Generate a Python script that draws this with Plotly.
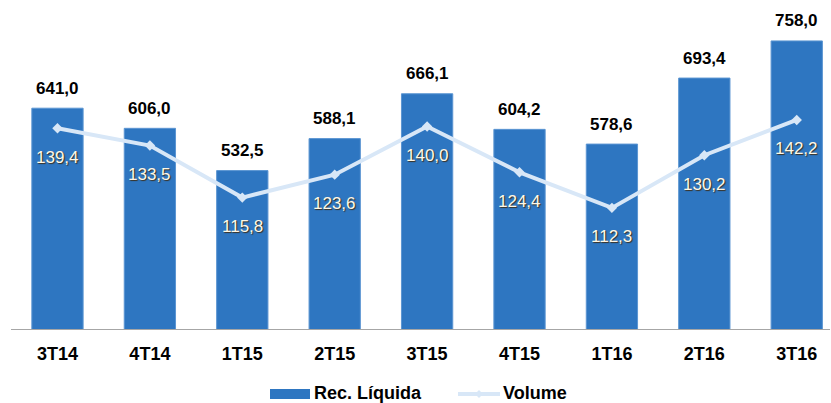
import plotly.graph_objects as go

categories = ["3T14", "4T14", "1T15", "2T15", "3T15", "4T15", "1T16", "2T16", "3T16"]
rec_liquida = [641.0, 606.0, 532.5, 588.1, 666.1, 604.2, 578.6, 693.4, 758.0]
volume = [139.4, 133.5, 115.8, 123.6, 140.0, 124.4, 112.3, 130.2, 142.2]
legend_names = ["Rec. Líquida", "Volume"]

def fmt(v):
    return f"{v:.1f}".replace(".", ",")

FONT = "Liberation Sans, Arial"
BAR_COLOR = "#2e76c1"
LINE_COLOR = "#d8e7f7"

W, H = 831, 403
ML, MR, MT, MB = 11, 1, 30, 74
PW, PH = W - ML - MR, H - MT - MB

def px(x):
    return (x - ML) / PW

def py(y):
    return (H - MB - y) / PH

fig = go.Figure()
fig.add_trace(go.Bar(
    x=categories, y=rec_liquida, name=legend_names[0],
    marker=dict(color=BAR_COLOR, line=dict(color="#5b95d2", width=1)),
    width=0.555, showlegend=False,
))
fig.add_trace(go.Scatter(
    x=categories, y=volume, name=legend_names[1], yaxis="y2",
    mode="lines+markers",
    line=dict(color=LINE_COLOR, width=4),
    marker=dict(symbol="diamond", size=8, color=LINE_COLOR),
    showlegend=False,
))

annotations = []
for c, v in zip(categories, rec_liquida):
    annotations.append(dict(x=c, y=v, xref="x", yref="y", text=f"<b>{fmt(v)}</b>",
                            showarrow=False, yshift=20,
                            font=dict(family=FONT, size=17, color="#000000")))
for c, v in zip(categories, volume):
    annotations.append(dict(x=c, y=v, xref="x", yref="y2", text=fmt(v),
                            showarrow=False, yshift=-29,
                            font=dict(family=FONT, size=17, color="#fff8e6",
                                      shadow="1px 1px 1px #3a3020")))

# custom legend
annotations.append(dict(x=px(312), y=py(393), xref="paper", yref="paper",
                        xanchor="left", yanchor="middle", showarrow=False,
                        text=f"<b>{legend_names[0]}</b>",
                        font=dict(family=FONT, size=18, color="#000000")))
annotations.append(dict(x=px(501), y=py(393), xref="paper", yref="paper",
                        xanchor="left", yanchor="middle", showarrow=False,
                        text=f"<b>{legend_names[1]}</b>",
                        font=dict(family=FONT, size=18, color="#000000")))

shapes = [
    dict(type="rect", xref="paper", yref="paper",
         x0=px(270), x1=px(310), y0=py(399), y1=py(389),
         fillcolor=BAR_COLOR, line=dict(width=0)),
    dict(type="line", xref="paper", yref="paper",
         x0=px(458), x1=px(500), y0=py(394), y1=py(394),
         line=dict(color=LINE_COLOR, width=4)),
    dict(type="path", xref="paper", yref="paper",
         path=(f"M {px(479)},{py(390)} L {px(483)},{py(394)} "
               f"L {px(479)},{py(398)} L {px(475)},{py(394)} Z"),
         fillcolor=LINE_COLOR, line=dict(width=0)),
]

fig.update_layout(
    width=W, height=H,
    margin=dict(l=ML, r=MR, t=MT, b=MB, autoexpand=False),
    plot_bgcolor="white", paper_bgcolor="white",
    font=dict(family=FONT, size=14, color="#000000"),
    showlegend=False,
    xaxis=dict(
        range=[-0.503, 8.36],
        showline=True, linecolor="#a6a6a6", linewidth=1,
        ticks="", showgrid=False, ticklabelstandoff=8,
        tickfont=dict(family=FONT, size=18, color="#000000", weight="bold"),
    ),
    yaxis=dict(range=[257, 777], visible=False, showgrid=False, fixedrange=True),
    yaxis2=dict(range=[71.1, 172.8], overlaying="y", side="right",
                visible=False, showgrid=False),
    annotations=annotations,
    shapes=shapes,
)

fig.write_html(
    "out.html",
    config={"displayModeBar": False},
    post_script="document.body.style.margin='0';document.body.style.overflow='hidden';",
)
